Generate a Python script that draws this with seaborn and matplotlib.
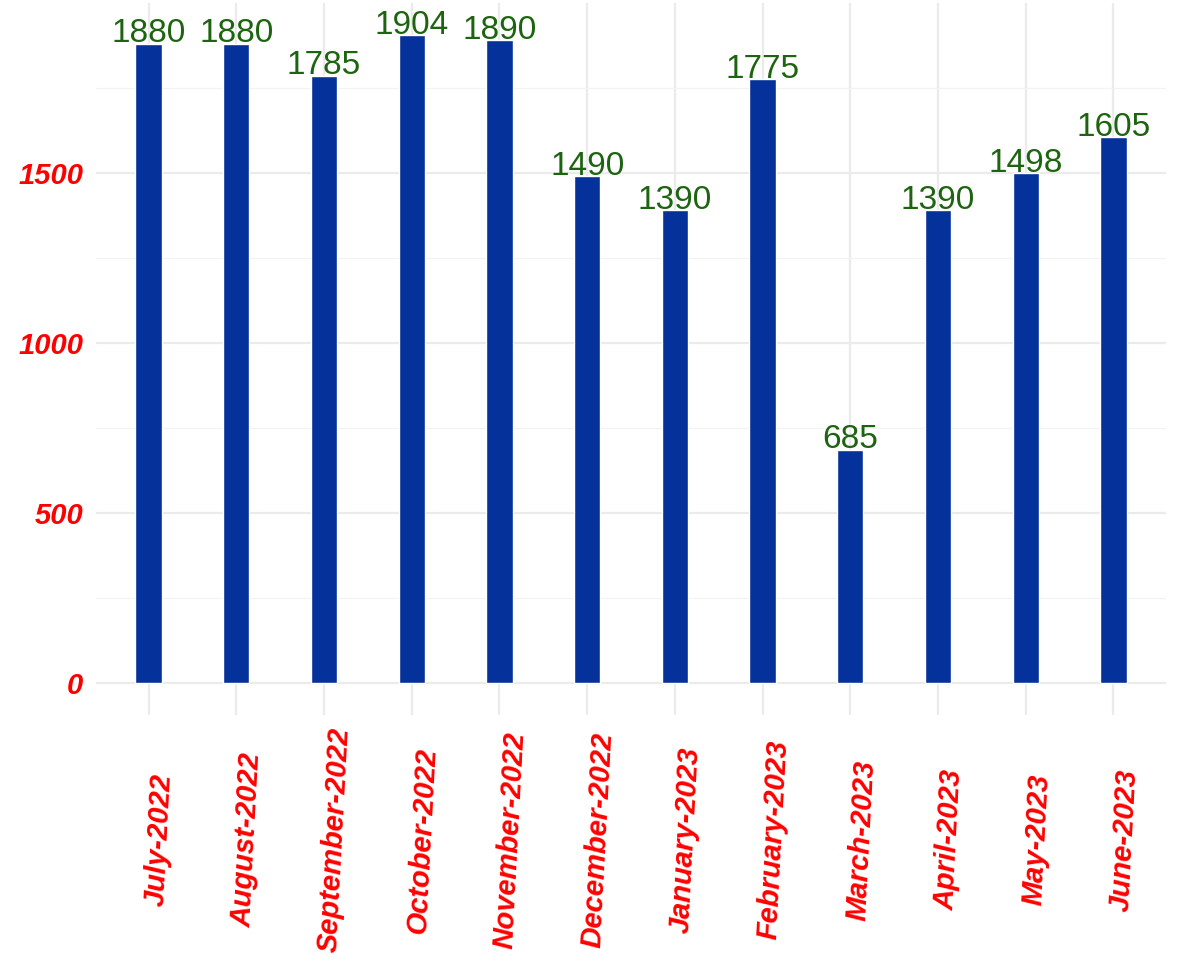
import pandas as pd
import numpy as np
import matplotlib.pyplot as plt
import matplotlib.transforms as mtransforms
import seaborn as sns
from matplotlib.ticker import MultipleLocator

months = ["July-2022", "August-2022", "September-2022", "October-2022",
          "November-2022", "December-2022", "January-2023", "February-2023",
          "March-2023", "April-2023", "May-2023", "June-2023"]
counts = [1880, 1880, 1785, 1904, 1890, 1490, 1390, 1775, 685, 1390, 1498, 1605]

df = pd.DataFrame({"month": months, "count": counts})

sns.set_style("white")
plt.rcParams['font.family'] = ['Liberation Sans', 'DejaVu Sans']

fig = plt.figure(figsize=(11.82, 9.61), dpi=100)
ax = fig.add_axes([96 / 1182, 1 - 715 / 961, 1070 / 1182, 712 / 961])

sns.barplot(data=df, x="month", y="count", color="#05319A", saturation=1,
            width=0.3, ax=ax, zorder=3)

# value labels sitting on top of each bar
for i, v in enumerate(counts):
    ax.text(i, v + 4, str(v), ha="center", va="baseline", fontsize=24,
            color="#1D6410", zorder=4)

ymax = max(counts)
ax.set_ylim(-0.05 * ymax, ymax * 1.05)
ax.set_xlim(-0.6, len(months) - 0.4)

ax.yaxis.set_major_locator(MultipleLocator(500))
ax.yaxis.set_minor_locator(MultipleLocator(250))
ax.grid(which="major", axis="both", color="#EBEBEB", linewidth=1.6, zorder=0)
ax.grid(which="minor", axis="y", color="#F3F3F3", linewidth=0.9, zorder=0)
ax.set_axisbelow(True)

for s in ax.spines.values():
    s.set_visible(False)

ax.set_xlabel("")
ax.set_ylabel("")
ax.tick_params(axis="both", which="both", length=0)
ax.tick_params(axis="y", pad=9)
ax.tick_params(axis="x", pad=90)

for lab in ax.get_yticklabels():
    lab.set_fontsize(21)
    lab.set_fontweight("bold")
    lab.set_fontstyle("italic")
    lab.set_color("red")

ax.set_xticks(range(len(months)))
ax.set_xticklabels(months, rotation=87, ha="center", va="center",
                   fontsize=21, fontweight="bold", fontstyle="italic",
                   color="red")
# labels sit a little to the right of their tick
shift = mtransforms.ScaledTranslation(0.11, 0, fig.dpi_scale_trans)
for lab in ax.get_xticklabels():
    lab.set_transform(lab.get_transform() + shift)

fig.savefig("out.png", dpi=100)
